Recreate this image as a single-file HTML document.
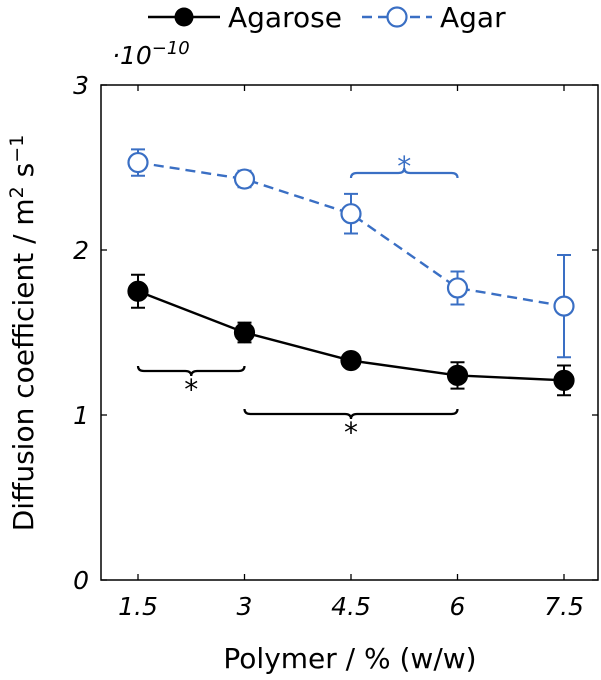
<!DOCTYPE html>
<html><head><meta charset="utf-8"><style>
html,body{margin:0;padding:0;background:#fff;}
svg{display:block;font-family:"DejaVu Sans","Liberation Sans",sans-serif;}
</style></head><body>
<svg id="chart" width="601" height="680" viewBox="0 0 601 680"></svg>
<script>
const categories=[1.5,3,4.5,6,7.5];
const agaroseValues=[1.75,1.50,1.33,1.24,1.21];
const agaroseErrors=[0.10,0.06,0.02,0.08,0.09];
const agarValues=[2.53,2.43,2.22,1.77,1.66];
const agarErrors=[0.08,0.05,0.12,0.10,0.31];
const xTickLabels=["1.5","3","4.5","6","7.5"];
const yTicks=[0,1,2,3];

const NS="http://www.w3.org/2000/svg";
const svg=document.getElementById('chart');
const L=101,R=598,T=85,B=580;
function xs(v){return 138+(v-1.5)/1.5*106.5;}
function ys(v){return B-(v/3)*(B-T);}
function el(tag,attrs,parent){const e=document.createElementNS(NS,tag);for(const k in attrs)e.setAttribute(k,attrs[k]);(parent||svg).appendChild(e);return e;}
const BLUE="#3a6fc4";

const frame=el('rect',{x:L,y:T,width:R-L,height:B-T,fill:'none',stroke:'#000','stroke-width':1.5});



yTicks.forEach(t=>{
  const y=ys(t);
  el('line',{x1:L,x2:L+6,y1:y,y2:y,stroke:'#000','stroke-width':1.3});
  el('line',{x1:R,x2:R-6,y1:y,y2:y,stroke:'#000','stroke-width':1.3});
  const tx=el('text',{x:L-12,y:y+9,'text-anchor':'end','font-size':25,'font-style':'italic'});
  tx.textContent=t;
  
  
});
categories.forEach((c,i)=>{
  const x=xs(c);
  el('line',{x1:x,x2:x,y1:B,y2:B-6,stroke:'#000','stroke-width':1.3});
  el('line',{x1:x,x2:x,y1:T,y2:T+6,stroke:'#000','stroke-width':1.3});
  const tx=el('text',{x:x,y:B+35,'text-anchor':'middle','font-size':25,'font-style':'italic'});
  tx.textContent=xTickLabels[i];
  
  
});

const exp=el('text',{x:112,y:64,'font-size':25,'font-style':'italic'});
exp.innerHTML='·10<tspan dy="-10" font-size="18">−10</tspan>';



const xt=el('text',{x:350,y:668,'text-anchor':'middle','font-size':28});
xt.textContent='Polymer / % (w/w)';


const yt=el('text',{x:0,y:0,'text-anchor':'middle','font-size':28,transform:'translate(33,333) rotate(-90)'});
yt.innerHTML='Diffusion coefficient / m<tspan dy="-10" font-size="19">2</tspan><tspan dy="10"> s</tspan><tspan dy="-10" font-size="19">−1</tspan>';



function series(vals,errs,color,dash,filled,name){
  const g=el('g',{});
  
  
  el('polyline',{points:categories.map((c,i)=>xs(c)+','+ys(vals[i])).join(' '),fill:'none',stroke:color,'stroke-width':2.4,'stroke-dasharray':dash},g);
  categories.forEach((c,i)=>{
    const x=xs(c),y1=ys(vals[i]+errs[i]),y2=ys(vals[i]-errs[i]);
    const eb=el('path',{d:`M${x},${y1}V${y2}M${x-7},${y1}H${x+7}M${x-7},${y2}H${x+7}`,stroke:color,'stroke-width':2,fill:'none'},g);
    
    
    const p=el('circle',{cx:x,cy:ys(vals[i]),r:9.5,fill:filled?color:'#fff',stroke:color,'stroke-width':2.2},g);
    
    
  });
}
series(agaroseValues,agaroseErrors,'#000','none',true,'agarose');
series(agarValues,agarErrors,BLUE,'10,6',false,'agar');

function brace(x1,x2,y,dir,color,name){
  const m=(x1+x2)/2,h=5*dir;
  const b=el('path',{d:`M${x1},${y}q0,${h} 6,${h}H${m-6}q6,0 6,${h}q0,${-h} 6,${-h}H${x2-6}q6,0 6,${-h}`,fill:'none',stroke:color,'stroke-width':2.2});
  
  
  const s=el('text',{x:m,y:dir>0?y+33:y-2,'text-anchor':'middle','font-size':28,fill:color});
  s.textContent='*';
  
  
}
brace(xs(1.5),xs(3),366,1,'#000','brace-1.5-3');
brace(xs(3),xs(6),409,1,'#000','brace-3-6');
brace(xs(4.5),xs(6),178,-1,BLUE,'brace-agar-4.5-6');

const lg=el('g',{});


el('line',{x1:148,x2:220,y1:17,y2:17,stroke:'#000','stroke-width':2.4},lg);
el('circle',{cx:184,cy:17,r:9.5,fill:'#000'},lg);
const l1=el('text',{x:228,y:27,'font-size':28},lg);l1.textContent='Agarose';


el('line',{x1:362,x2:432,y1:17,y2:17,stroke:BLUE,'stroke-width':2.4,'stroke-dasharray':'10,6'},lg);
el('circle',{cx:397,cy:17,r:9.5,fill:'#fff',stroke:BLUE,'stroke-width':2.2},lg);
const l2=el('text',{x:440,y:27,'font-size':28},lg);l2.textContent='Agar';


</script>
</body></html>
